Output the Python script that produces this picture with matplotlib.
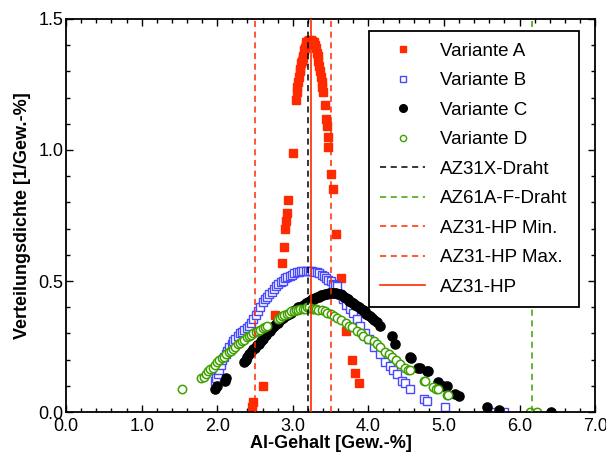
import matplotlib.pyplot as plt
from matplotlib.lines import Line2D
from matplotlib.ticker import MultipleLocator, FormatStrFormatter

plt.rcParams['font.family'] = ['Liberation Sans', 'DejaVu Sans']

# Variante A (filled red squares)
a_x = [2.46, 2.48, 2.60, 2.76, 2.86, 2.88, 2.90, 2.91, 2.92, 2.94, 3.00, 3.04, 3.05,
       3.06, 3.07, 3.08, 3.09, 3.10, 3.11, 3.12, 3.13, 3.14, 3.15, 3.16, 3.17, 3.18,
       3.20, 3.22, 3.24, 3.26, 3.28, 3.30, 3.31, 3.32, 3.33, 3.34, 3.35, 3.36, 3.37,
       3.38, 3.39, 3.40, 3.42, 3.44, 3.45, 3.46, 3.47, 3.51, 3.53, 3.57, 3.64, 3.67,
       3.71, 3.79, 3.82, 3.87]
a_y = [0.02, 0.04, 0.10, 0.37, 0.57, 0.63, 0.70, 0.73, 0.76, 0.81, 0.99, 1.19, 1.22,
       1.24, 1.26, 1.28, 1.30, 1.31, 1.33, 1.34, 1.35, 1.36, 1.38, 1.39, 1.40, 1.41,
       1.415, 1.42, 1.42, 1.415, 1.41, 1.40, 1.39, 1.37, 1.36, 1.34, 1.32, 1.30, 1.28,
       1.26, 1.24, 1.22, 1.17, 1.12, 1.09, 1.05, 1.01, 0.91, 0.85, 0.68, 0.51, 0.44,
       0.31, 0.20, 0.15, 0.11]

# Variante B (open blue squares)
b_x = [1.97, 1.99, 2.01, 2.03, 2.05, 2.07, 2.09, 2.11, 2.13, 2.16, 2.19, 2.21, 2.24,
       2.27, 2.30, 2.33, 2.36, 2.39, 2.42, 2.45, 2.48, 2.51, 2.54, 2.57, 2.60, 2.63,
       2.66, 2.69, 2.72, 2.75, 2.78, 2.81, 2.84, 2.87, 2.90, 2.93, 2.96, 2.99, 3.02,
       3.05, 3.08, 3.11, 3.14, 3.17, 3.20, 3.23, 3.26, 3.29, 3.32, 3.35, 3.38, 3.41,
       3.44, 3.47, 3.50, 3.53, 3.56, 3.58, 3.62, 3.66, 3.71, 3.76, 3.80, 3.85, 3.89,
       3.95, 4.01, 4.07, 4.15, 4.22, 4.28, 4.33, 4.38, 4.44, 4.49, 4.55, 4.73, 4.78,
       5.01, 5.67, 5.80]
b_y = [0.12, 0.13, 0.145, 0.16, 0.18, 0.20, 0.21, 0.22, 0.235, 0.25, 0.26, 0.27, 0.28,
       0.29, 0.30, 0.305, 0.315, 0.32, 0.33, 0.34, 0.355, 0.37, 0.385, 0.40, 0.42, 0.43,
       0.44, 0.45, 0.46, 0.47, 0.48, 0.49, 0.495, 0.50, 0.51, 0.515, 0.52, 0.525, 0.53,
       0.535, 0.535, 0.54, 0.54, 0.54, 0.54, 0.54, 0.54, 0.535, 0.535, 0.53, 0.525,
       0.52, 0.51, 0.505, 0.50, 0.49, 0.485, 0.48, 0.45, 0.43, 0.41, 0.395, 0.38, 0.355,
       0.33, 0.30, 0.28, 0.25, 0.22, 0.19, 0.175, 0.16, 0.145, 0.12, 0.11, 0.09, 0.05,
       0.043, 0.018, 0.0, 0.0]

# Variante C (filled black circles)
c_x = [1.97, 2.00, 2.10, 2.12, 2.35, 2.375, 2.40, 2.425, 2.45, 2.475, 2.50, 2.525,
       2.55, 2.575, 2.60, 2.625, 2.65, 2.675, 2.70, 2.725, 2.75, 2.775, 2.80, 2.825,
       2.85, 2.875, 2.90, 2.925, 2.95, 2.975, 3.00, 3.025, 3.05, 3.075, 3.10, 3.125,
       3.15, 3.175, 3.20, 3.225, 3.25, 3.275, 3.30, 3.325, 3.35, 3.375, 3.40, 3.425,
       3.45, 3.475, 3.50, 3.525, 3.55, 3.575, 3.60, 3.625, 3.65, 3.675, 3.70, 3.725,
       3.75, 3.775, 3.80, 3.825, 3.85, 3.875, 3.90, 3.925, 3.95, 3.975, 4.00, 4.025,
       4.05, 4.075, 4.11, 4.15, 4.31, 4.35, 4.55, 4.57, 4.66, 4.68, 4.77, 4.79, 4.92,
       4.99, 5.04, 5.15, 5.20, 5.57, 5.73, 6.42]
c_y = [0.09, 0.10, 0.12, 0.13, 0.19, 0.20, 0.21, 0.22, 0.23, 0.24, 0.245, 0.255, 0.26,
       0.27, 0.28, 0.29, 0.295, 0.305, 0.31, 0.32, 0.33, 0.335, 0.34, 0.35, 0.355,
       0.36, 0.365, 0.37, 0.375, 0.38, 0.385, 0.39, 0.395, 0.40, 0.40, 0.405, 0.41,
       0.415, 0.42, 0.425, 0.43, 0.43, 0.435, 0.44, 0.44, 0.445, 0.445, 0.45, 0.45,
       0.455, 0.455, 0.455, 0.455, 0.455, 0.45, 0.45, 0.445, 0.44, 0.435, 0.43, 0.425,
       0.42, 0.415, 0.41, 0.405, 0.40, 0.395, 0.39, 0.385, 0.375, 0.37, 0.365, 0.36,
       0.35, 0.345, 0.33, 0.29, 0.26, 0.21, 0.205, 0.17, 0.17, 0.155, 0.155, 0.115,
       0.10, 0.10, 0.07, 0.06, 0.02, 0.008, 0.0]

# Variante D (open green circles)
d_x = [1.54, 1.79, 1.82, 1.85, 1.88, 1.91, 1.94, 1.97, 2.00, 2.03, 2.06, 2.09, 2.12,
       2.15, 2.18, 2.21, 2.24, 2.27, 2.30, 2.33, 2.36, 2.39, 2.42, 2.45, 2.48, 2.51,
       2.54, 2.57, 2.60, 2.63, 2.66, 2.80, 2.83, 2.86, 2.89, 2.92, 2.95, 2.98, 3.01,
       3.04, 3.07, 3.10, 3.13, 3.16, 3.19, 3.22, 3.25, 3.28, 3.31, 3.34, 3.38, 3.42,
       3.45, 3.50, 3.54, 3.58, 3.64, 3.71, 3.75, 3.78, 3.85, 3.90, 3.93, 4.00, 4.07,
       4.11, 4.15, 4.22, 4.27, 4.31, 4.37, 4.42, 4.48, 4.53, 4.55, 4.73, 4.75, 4.86,
       4.90, 4.92, 5.04, 5.05, 6.14, 6.23]
d_y = [0.09, 0.13, 0.135, 0.145, 0.155, 0.165, 0.17, 0.18, 0.19, 0.20, 0.205, 0.21,
       0.22, 0.23, 0.235, 0.24, 0.25, 0.26, 0.265, 0.27, 0.275, 0.285, 0.29, 0.295,
       0.30, 0.305, 0.31, 0.315, 0.32, 0.325, 0.33, 0.355, 0.36, 0.365, 0.37, 0.375,
       0.38, 0.385, 0.385, 0.39, 0.39, 0.395, 0.395, 0.395, 0.40, 0.40, 0.395, 0.395,
       0.395, 0.39, 0.39, 0.385, 0.38, 0.375, 0.365, 0.36, 0.35, 0.34, 0.33, 0.325,
       0.31, 0.30, 0.29, 0.28, 0.27, 0.26, 0.25, 0.23, 0.22, 0.21, 0.20, 0.185, 0.17,
       0.16, 0.16, 0.12, 0.12, 0.094, 0.09, 0.087, 0.065, 0.065, 0.0, 0.0]

# reference alloy contents (Al, Gew.-%)
az31x_draht = 3.2
az61a_draht = 6.16
az31hp_min = 2.5
az31hp_max = 3.5
az31hp = 3.24

red = '#ff2a00'
blue = '#4848ff'
green = '#3fa000'

fig = plt.figure(figsize=(6.06, 4.61), dpi=100)
ax = fig.add_axes([0.109, 0.106, 0.873, 0.853])

ax.plot(a_x, a_y, 's', color=red, ms=6.3, mec=red, zorder=2)
ax.plot(b_x, b_y, 's', color=blue, ms=5.4, mfc='white', mew=1.0, zorder=2)
ax.plot(c_x, c_y, 'o', color='black', ms=6.6, zorder=2)
ax.plot(d_x, d_y, 'o', color=green, ms=6.0, mfc='white', mew=1.1, zorder=2)

dash = (0, (4, 3))
ax.axvline(az31x_draht, color='black', lw=1.1, ls=dash, zorder=3)
ax.axvline(az61a_draht, color=green, lw=1.1, ls=dash, zorder=3)
ax.axvline(az31hp_min, color=red, lw=1.1, ls=dash, zorder=3)
ax.axvline(az31hp_max, color=red, lw=1.1, ls=dash, zorder=3)
ax.axvline(az31hp, color=red, lw=1.2, zorder=3)

ax.set_xlim(0, 7)
ax.set_ylim(0, 1.5)
ax.xaxis.set_major_locator(MultipleLocator(1.0))
ax.xaxis.set_minor_locator(MultipleLocator(0.2))
ax.yaxis.set_major_locator(MultipleLocator(0.5))
ax.yaxis.set_minor_locator(MultipleLocator(0.1))
ax.xaxis.set_major_formatter(FormatStrFormatter('%.1f'))
ax.yaxis.set_major_formatter(FormatStrFormatter('%.1f'))
ax.tick_params(which='both', direction='in', top=True, right=True, width=1.0,
               labelsize=13)
ax.tick_params(axis='x', pad=4)
ax.tick_params(axis='y', pad=2)
ax.tick_params(which='major', length=5)
ax.tick_params(which='minor', length=3)
for s in ax.spines.values():
    s.set_linewidth(1.3)

ax.set_xlabel('Al-Gehalt [Gew.-%]', fontsize=13, fontweight='bold', labelpad=0)
ax.set_ylabel('Verteilungsdichte [1/Gew.-%]', fontsize=13, fontweight='bold', labelpad=5)

handles = [
    Line2D([], [], ls='none', marker='s', color=red, ms=5),
    Line2D([], [], ls='none', marker='s', color=blue, ms=4.5, mfc='white', mew=1.0),
    Line2D([], [], ls='none', marker='o', color='black', ms=5.5),
    Line2D([], [], ls='none', marker='o', color=green, ms=4.5, mfc='white', mew=1.0),
    Line2D([], [], color='black', lw=1.1, ls=dash),
    Line2D([], [], color=green, lw=1.1, ls=dash),
    Line2D([], [], color=red, lw=1.1, ls=dash),
    Line2D([], [], color=red, lw=1.1, ls=dash),
    Line2D([], [], color=red, lw=1.2),
]
labels = ['Variante A', 'Variante B', 'Variante C', 'Variante D', 'AZ31X-Draht',
          'AZ61A-F-Draht', 'AZ31-HP Min.', 'AZ31-HP Max.', 'AZ31-HP']
leg = ax.legend(handles, labels, loc='upper right', bbox_to_anchor=(0.970, 0.969),
                fontsize=13.5, frameon=True, fancybox=False, framealpha=1,
                edgecolor='black', borderaxespad=0, handlelength=2.4,
                handletextpad=0.8, labelspacing=0.66, borderpad=0.62)
leg.get_frame().set_linewidth(1.3)
leg.set_zorder(5)

fig.savefig('out.png', dpi=100)
